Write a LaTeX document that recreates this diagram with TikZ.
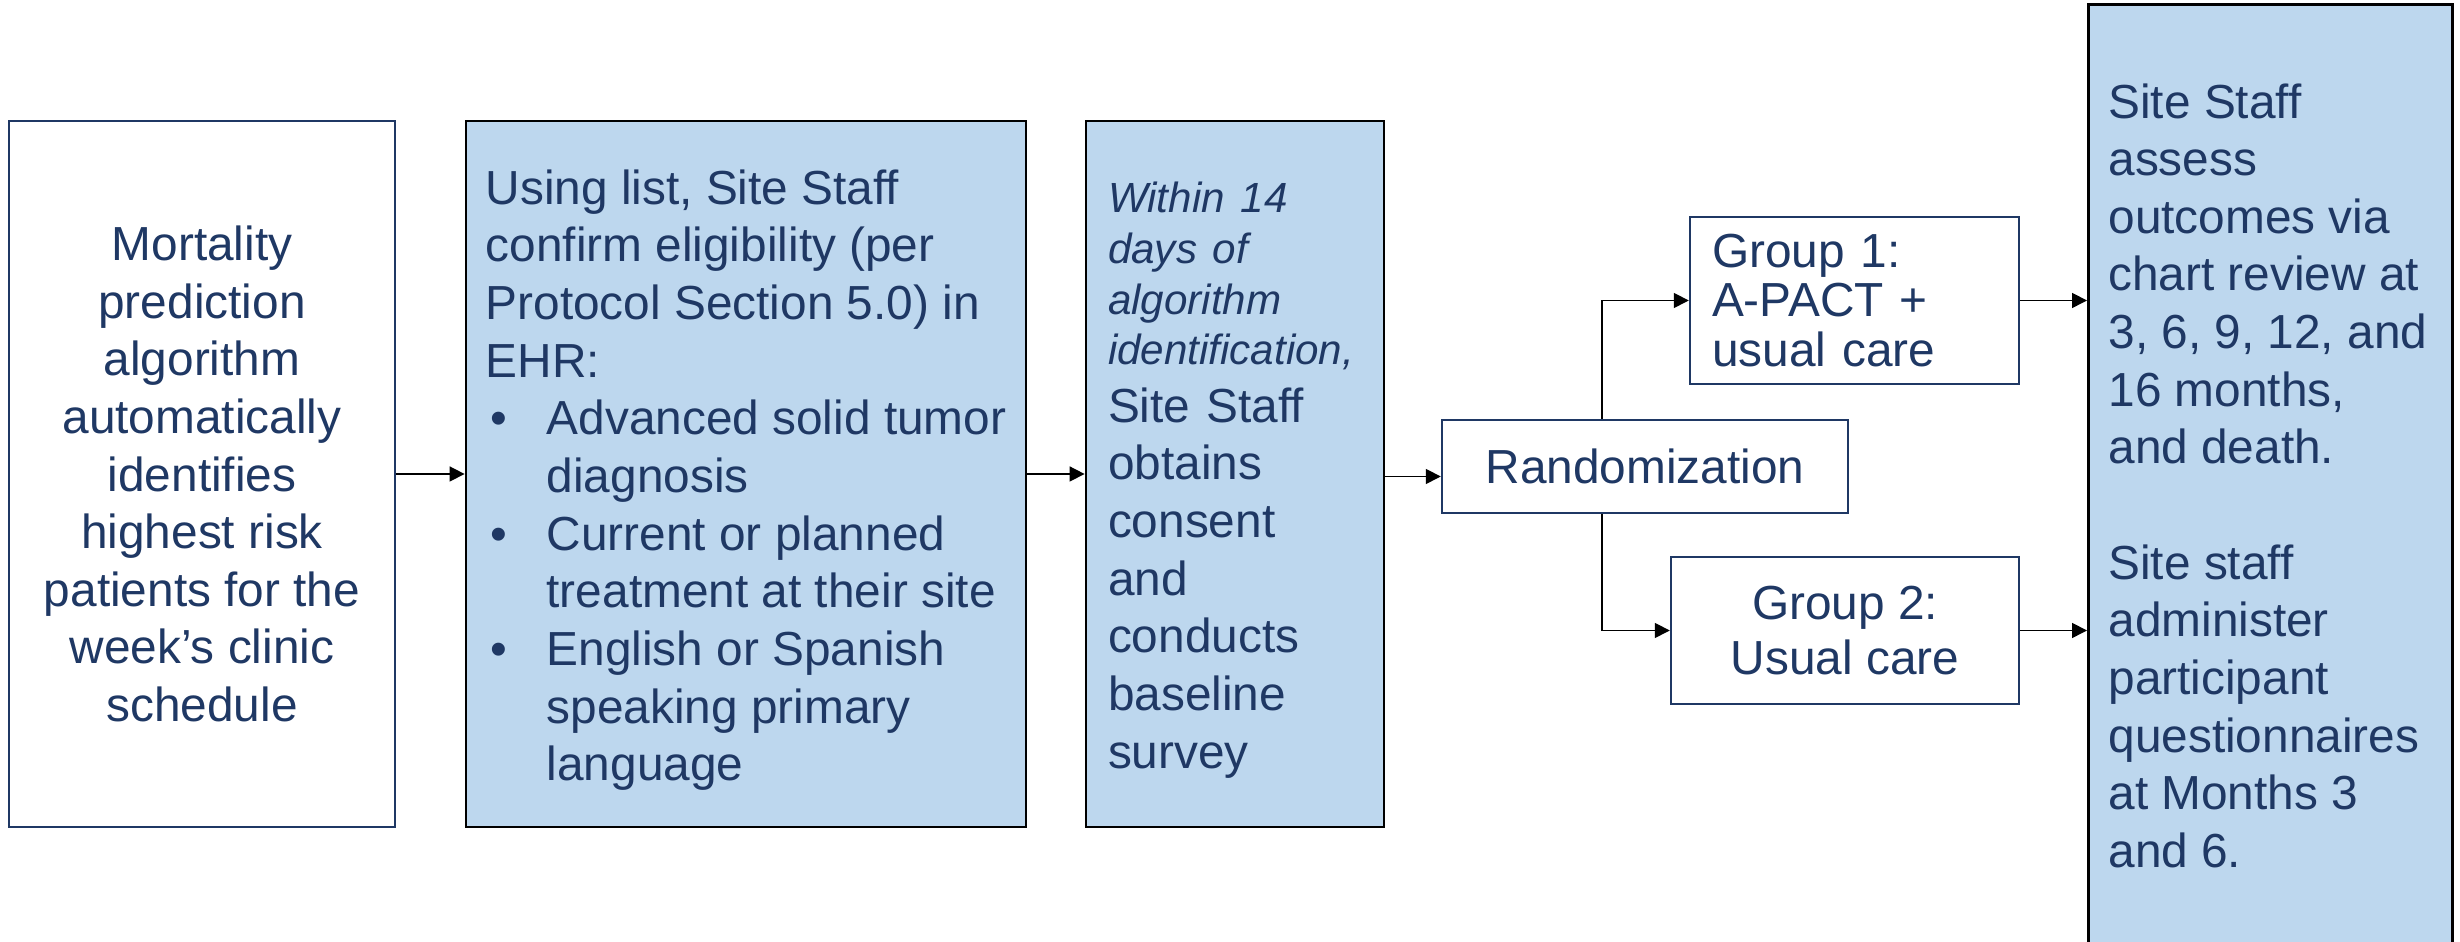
\documentclass[tikz,border=0pt]{standalone}
\usepackage{fontspec}
\setmainfont{Liberation Sans}
\usetikzlibrary{arrows.meta, positioning, calc}
\definecolor{nblue}{RGB}{ 31, 56,100}
\definecolor{fblue}{RGB}{189,215,238}
\tikzset{
  % White step box, navy frame
  WB/.style={rectangle,draw=nblue,fill=white,text=nblue,line width=0.7pt,
             inner sep=0pt,font=\fontsize{13.6}{16.4}\selectfont},
  % Blue step box, black frame
  BB/.style={rectangle,draw=black,fill=fblue,text=nblue,line width=0.8pt,
             inner sep=0pt,font=\fontsize{13.6}{16.4}\selectfont},
  % Arrows -- thin black, filled tip
  Arr/.style={-{Triangle[length=0.15cm,width=0.15cm]},line width=0.45pt,
              color=black},
}

\begin{document}
\begin{tikzpicture}
      \useasboundingbox (0,0) rectangle (24.6,9.42);
      % Four tall boxes -- one row, centred at y = 4.68
      \node[WB,minimum width=3.86cm,minimum height=7.06cm,align=center]
            at (2.02,4.68) (algo)
            {Mortality\\prediction\\algorithm\\automatically\\identifies\\
             highest risk\\patients for the\\week’s clinic\\schedule};
      \node[BB,minimum width=5.60cm,minimum height=7.06cm,align=left]
            at (7.46,4.68) (elig)
            {\rule{0pt}{0.47cm}Using list, Site Staff\\confirm eligibility (per\\
             Protocol Section 5.0) in\\EHR:\\
             \makebox[0.61cm][l]{\hspace{0.05cm}\textbullet}Advanced solid tumor\\
             \hspace*{0.61cm}diagnosis\\
             \makebox[0.61cm][l]{\hspace{0.05cm}\textbullet}Current or planned\\
             \hspace*{0.61cm}treatment at their site\\
             \makebox[0.61cm][l]{\hspace{0.05cm}\textbullet}English or Spanish\\
             \hspace*{0.61cm}speaking primary\\
             \hspace*{0.61cm}language};
      \node[BB,minimum width=2.98cm,minimum height=7.06cm,text width=2.54cm,
            align=left]
            at (12.35,4.68) (cons)
            {{\fontsize{12}{16.4}\selectfont\itshape\rule{0pt}{0.43cm}Within 14\\[-2pt]
             days of\\[-2pt]algorithm\\[-2pt]identification,}\\[0pt]
             Site Staff\\obtains\\consent\\and\\conducts\\baseline\\survey};
      % Randomization and the two arms
      \node[WB,minimum width=4.06cm,minimum height=0.93cm]
            at (16.45,4.755) (rand) {Randomization};
      \node[WB,minimum width=3.29cm,minimum height=1.67cm,text width=2.85cm,
            align=left,font=\fontsize{13.6}{14.2}\selectfont]
            at (18.545,6.415) (grp1) {Group 1:\\A-PACT +\\usual care};
      \node[WB,minimum width=3.48cm,minimum height=1.47cm,align=center,
            font=\fontsize{13.6}{15.6}\selectfont]
            at (18.45,3.115) (grp2) {Group 2:\\Usual care};
      % Outcome box -- runs off the bottom edge
      \node[BB,anchor=north west,inner xsep=0pt,inner ysep=0.79cm]
            at (20.87,9.39) (outc)
            {\parbox[t][9cm][t]{3.64cm}{\raggedright\leftskip=0.2cm
             Site Staff\\assess\\outcomes via\\chart review at\\
             3, 6, 9, 12, and\\16 months,\\and death.\\[\baselineskip]
             Site staff\\administer\\participant\\questionnaires\\
             at Months 3\\and 6.}};
      % Connectors
      \draw[Arr] (algo.east) -- (elig.west);
      \draw[Arr] (elig.east) -- (cons.west);
      \coordinate (rin) at ([yshift=-0.1cm]rand.west);
      \draw[Arr] (cons.east |- rin) -- (rin);
      \draw[Arr] ([xshift=-0.43cm]rand.north) |- (grp1.west);
      \draw[Arr] ([xshift=-0.43cm]rand.south) |- (grp2.west);
      \draw[Arr] (grp1.east) -- (grp1.east -| outc.west);
      \draw[Arr] (grp2.east) -- (grp2.east -| outc.west);
    \end{tikzpicture}
\end{document}
